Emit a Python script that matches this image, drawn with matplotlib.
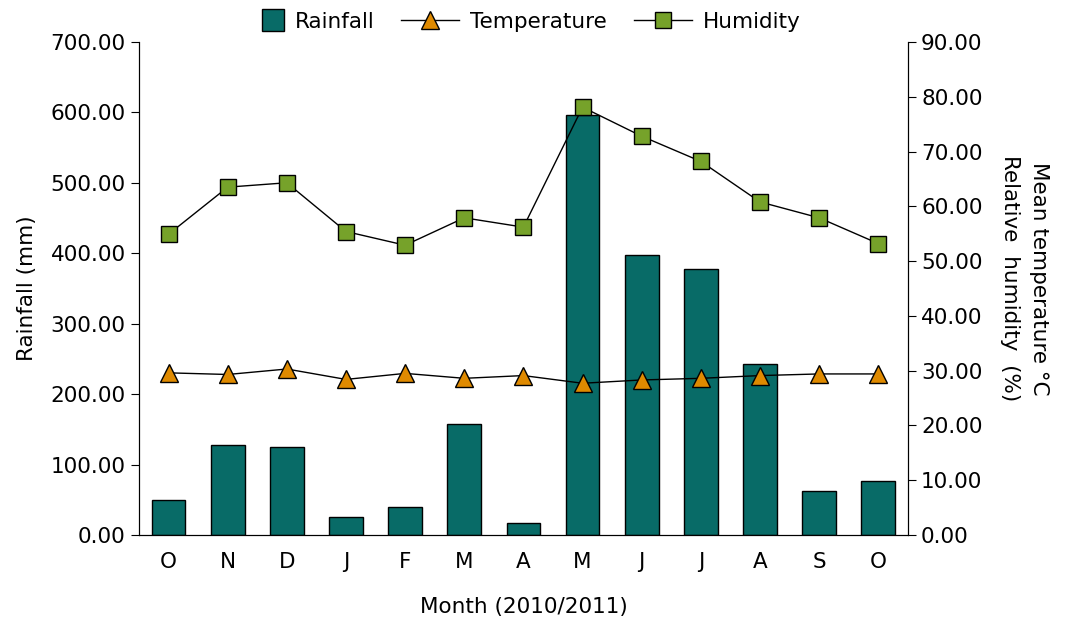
import numpy as np
import matplotlib.pyplot as plt
from matplotlib.patches import Patch, Rectangle
from matplotlib.legend_handler import HandlerPatch

months = ['O', 'N', 'D', 'J', 'F', 'M', 'A', 'M', 'J', 'J', 'A', 'S', 'O']
rainfall = [50, 128, 125, 25, 40, 158, 17, 597, 397, 378, 243, 62, 76]
temperature = [29.6, 29.3, 30.3, 28.4, 29.5, 28.6, 29.1, 27.7, 28.3, 28.6, 29.1, 29.4, 29.4]
humidity = [54.9, 63.5, 64.3, 55.4, 52.9, 57.9, 56.2, 78.1, 72.8, 68.2, 60.8, 57.9, 53.2]

plt.rcParams['font.family'] = 'DejaVu Sans'
plt.rcParams['font.size'] = 15.5

fig = plt.figure(figsize=(10.73, 6.22), dpi=100)
ax = fig.add_axes([0.1295, 0.1399, 0.7166, 0.7926])
ax2 = ax.twinx()

x = np.arange(len(months))
ax.bar(x, rainfall, width=0.57, color='#086B67', edgecolor='black', linewidth=1)
lt, = ax2.plot(x, temperature, color='black', linewidth=1, marker='^', markersize=13,
               markerfacecolor='#DF8A00', markeredgecolor='black', markeredgewidth=1, label='Temperature')
lh, = ax2.plot(x, humidity, color='black', linewidth=1, marker='s', markersize=12,
               markerfacecolor='#76A22A', markeredgecolor='black', markeredgewidth=1, label='Humidity')

ax.set_xlim(-0.5, 12.5)
ax.set_ylim(0, 700)
ax2.set_ylim(0, 90)
ax.set_yticks(np.arange(0, 701, 100))
ax2.set_yticks(np.arange(0, 91, 10))
ax.set_yticklabels(['%.2f' % v for v in np.arange(0, 701, 100)])
ax2.set_yticklabels(['%.2f' % v for v in np.arange(0, 91, 10)])
ax.set_xticks(x)
ax.set_xticklabels(months)
ax.tick_params(axis='x', length=0, pad=12)
ax.tick_params(axis='y', direction='out', length=6)
ax2.tick_params(axis='y', direction='out', length=6)

for a in (ax, ax2):
    a.spines['top'].set_visible(False)
ax.set_xlabel('Month (2010/2011)', labelpad=18)
ax.set_ylabel('Rainfall (mm)', labelpad=10)
ax2.set_ylabel('Mean temperature °C\nRelative  humidity  (%)', rotation=270, labelpad=48,
               linespacing=1.6, y=0.52)


# square patch drawn at the right end of the handle box
def square_patch(legend, orig_handle, xdescent, ydescent, width, height, fontsize):
    s = height * 1.45
    return Rectangle((width - s - xdescent, (height - s) / 2 - ydescent), s, s)


rain_handle = Patch(facecolor='#086B67', edgecolor='black', linewidth=1)
fig.legend(handles=[rain_handle, lt, lh], labels=['Rainfall', 'Temperature', 'Humidity'],
           handler_map={Patch: HandlerPatch(patch_func=square_patch)},
           loc='upper center', bbox_to_anchor=(0.478, 1.012), ncol=3,
           frameon=False, handlelength=2.7, columnspacing=1.25, handletextpad=0.5)

fig.savefig('out.png', dpi=100)
